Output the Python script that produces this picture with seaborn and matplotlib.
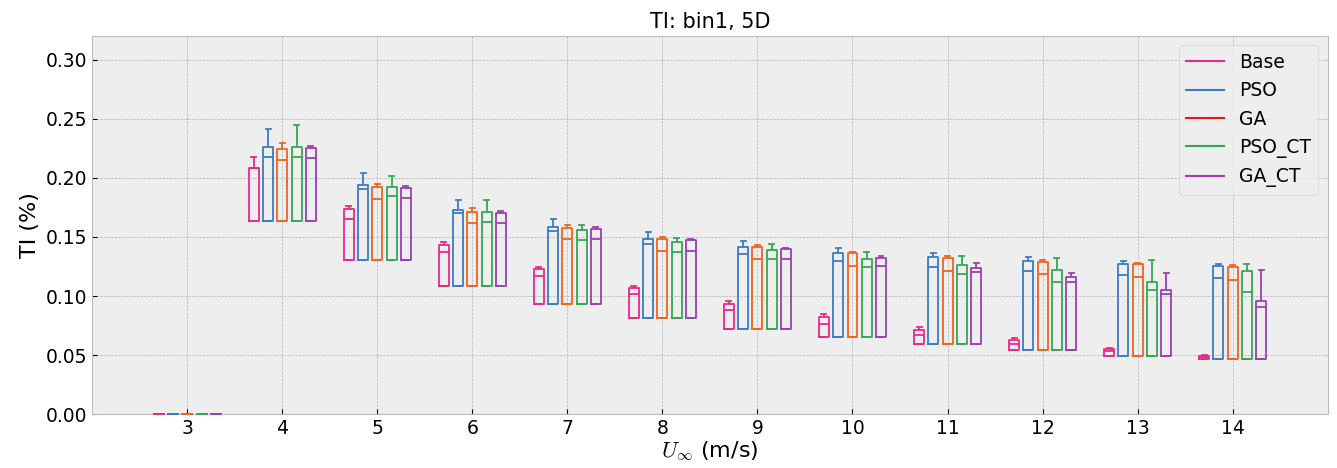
import numpy as np
import pandas as pd
import matplotlib
matplotlib.use("Agg")
import matplotlib.pyplot as plt
from matplotlib.lines import Line2D
import seaborn as sns

# wind speeds (x categories)
speeds = [3, 4, 5, 6, 7, 8, 9, 10, 11, 12, 13, 14]
methods = ["Base", "PSO", "GA", "PSO_CT", "GA_CT"]

# lower end of every box (min == Q1), shared by all methods in a speed bin
low = [0.0, 0.1636, 0.1305, 0.1088, 0.0932, 0.0814, 0.0723, 0.0653, 0.0590, 0.0540, 0.0494, 0.0463]

# medians
med_base = [0.0, 0.2080, 0.1655, 0.1376, 0.1172, 0.1014, 0.0881, 0.0765, 0.0669, 0.0596, 0.0535, 0.0482]
med_pso = [0.0, 0.2175, 0.1904, 0.1700, 0.1548, 0.1441, 0.1359, 0.1297, 0.1249, 0.1209, 0.1180, 0.1155]
med_ga = [0.0, 0.2153, 0.1825, 0.1616, 0.1480, 0.1384, 0.1311, 0.1257, 0.1214, 0.1184, 0.1158, 0.1136]
med_pso_ct = [0.0, 0.2175, 0.1845, 0.1630, 0.1472, 0.1373, 0.1311, 0.1243, 0.1189, 0.1119, 0.1048, 0.1031]
med_ga_ct = [0.0, 0.2167, 0.1831, 0.1621, 0.1483, 0.1384, 0.1314, 0.1257, 0.1203, 0.1119, 0.1020, 0.0904]

# upper quartiles
q3_base = [0.0, 0.2080, 0.1735, 0.1435, 0.1226, 0.1065, 0.0935, 0.0820, 0.0714, 0.0624, 0.0554, 0.0494]
q3_pso = [0.0, 0.2265, 0.1940, 0.1729, 0.1582, 0.1486, 0.1418, 0.1367, 0.1328, 0.1297, 0.1271, 0.1251]
q3_ga = [0.0, 0.2246, 0.1920, 0.1715, 0.1573, 0.1480, 0.1412, 0.1362, 0.1319, 0.1291, 0.1268, 0.1246]
q3_pso_ct = [0.0, 0.2263, 0.1920, 0.1712, 0.1562, 0.1460, 0.1387, 0.1316, 0.1263, 0.1223, 0.1116, 0.1209]
q3_ga_ct = [0.0, 0.2251, 0.1913, 0.1706, 0.1568, 0.1475, 0.1401, 0.1325, 0.1237, 0.1158, 0.1054, 0.0958]

# maxima (upper whisker)
max_base = [0.0, 0.2175, 0.1763, 0.1458, 0.1246, 0.1085, 0.0958, 0.0847, 0.0740, 0.0644, 0.0562, 0.0503]
max_pso = [0.0, 0.2410, 0.2040, 0.1811, 0.1655, 0.1545, 0.1469, 0.1409, 0.1362, 0.1328, 0.1299, 0.1274]
max_ga = [0.0, 0.2294, 0.1952, 0.1743, 0.1602, 0.1500, 0.1430, 0.1375, 0.1336, 0.1305, 0.1277, 0.1260]
max_pso_ct = [0.0, 0.2446, 0.2017, 0.1816, 0.1604, 0.1494, 0.1443, 0.1375, 0.1342, 0.1325, 0.1302, 0.1268]
max_ga_ct = [0.0, 0.2268, 0.1932, 0.1723, 0.1587, 0.1486, 0.1407, 0.1342, 0.1282, 0.1197, 0.1197, 0.1223]

stats = {
    "Base": (med_base, q3_base, max_base),
    "PSO": (med_pso, q3_pso, max_pso),
    "GA": (med_ga, q3_ga, max_ga),
    "PSO_CT": (med_pso_ct, q3_pso_ct, max_pso_ct),
    "GA_CT": (med_ga_ct, q3_ga_ct, max_ga_ct),
}

box_colors = ["#e7298a", "#3a7dc2", "#f0641e", "#33a854", "#9c3fb0"]
legend_colors = ["#e7298a", "#3a7dc2", "#e41a1c", "#33a854", "#9c3fb0"]

# five points per box: [min, Q1, median, Q3, max] -> numpy quartiles hit them exactly
rows = []
for m in methods:
    med, q3, mx = stats[m]
    for i, s in enumerate(speeds):
        for v in [low[i], low[i], med[i], q3[i], mx[i]]:
            rows.append({"speed": s, "method": m, "TI": v})
df = pd.DataFrame(rows)

plt.style.use("bmh")
fig, ax = plt.subplots(figsize=(13.37, 4.68), dpi=100)

sns.boxplot(data=df, x="speed", y="TI", hue="method", order=speeds, hue_order=methods,
            palette=box_colors, fill=False, width=0.75, gap=0.3, whis=(0, 100),
            linewidth=1.3, showfliers=False, legend=False, ax=ax)

# keep the flat boxes at 0 visible above the bottom spine
for art in ax.lines + ax.patches:
    art.set_zorder(3)
    art.set_clip_on(False)

ax.set_xlim(-1, 12)
ax.set_ylim(0, 0.32)
ax.xaxis.grid(True)
ax.yaxis.grid(True)
ax.set_yticks([0.0, 0.05, 0.10, 0.15, 0.20, 0.25, 0.30])
ax.set_yticklabels(["0.00", "0.05", "0.10", "0.15", "0.20", "0.25", "0.30"])
ax.tick_params(labelsize=13.5)
ax.set_title("TI: bin1, 5D", fontsize=15)
ax.set_xlabel(r"$U_\infty$ (m/s)", fontsize=16, labelpad=1)
ax.set_ylabel("TI (%)", fontsize=16)

handles = [Line2D([0], [0], color=c, lw=1.5) for c in legend_colors]
ax.legend(handles, methods, loc="upper right", fontsize=13.5)

fig.subplots_adjust(left=0.069, right=0.993, top=0.923, bottom=0.115)
fig.savefig("out.png", dpi=100)
